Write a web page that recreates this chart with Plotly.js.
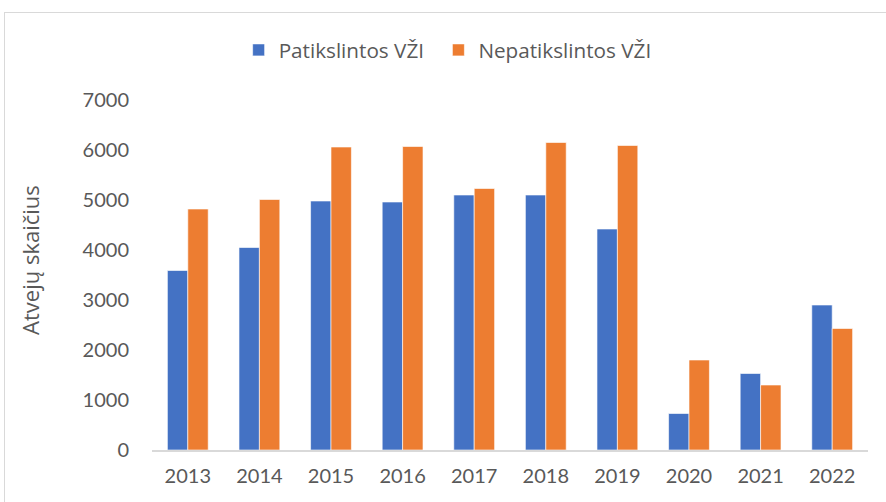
<!DOCTYPE html>
<html>
<head>
<meta charset="utf-8">
<script src="https://cdn.plot.ly/plotly-3.0.1.min.js"></script>
<style>
  html, body { margin: 0; padding: 0; background: #fff; overflow: hidden; }
  #wrap { position: relative; width: 886px; height: 502px; }
  #chart { position: absolute; left: 0; top: 0; width: 886px; height: 502px; }
  #frame { position: absolute; left: 4px; top: 12px; width: 900px; height: 520px;
           border: 1.5px solid #d9d9d9; pointer-events: none; box-sizing: border-box; }
</style>
</head>
<body>
<div id="wrap">
  <div id="chart"></div>
  <div id="frame"></div>
</div>
<script>
const years = ['2013','2014','2015','2016','2017','2018','2019','2020','2021','2022'];
const seriesNames = ['Patikslintos VŽI', 'Nepatikslintos VŽI'];
const patikslintos = [3590, 4050, 4980, 4960, 5100, 5100, 4420, 730, 1530, 2900];
const nepatikslintos = [4820, 5010, 6060, 6070, 5230, 6150, 6090, 1800, 1300, 2430];
const yTicks = [0, 1000, 2000, 3000, 4000, 5000, 6000, 7000];
const yTitle = 'Atvejų skaičius';

const TICKFONT = 'Lato, "Open Sans", sans-serif';
const FONT = '"Open Sans", Lato, sans-serif';
const TXT = '#595959';

const traces = [
  { type: 'bar', name: seriesNames[0], x: years, y: patikslintos, legend: 'legend',
    marker: { color: '#4472C4', line: { color: 'rgba(255,255,255,0.6)', width: 1 } } },
  { type: 'bar', name: seriesNames[1], x: years, y: nepatikslintos, legend: 'legend2',
    marker: { color: '#ED7D31', line: { color: 'rgba(255,255,255,0.6)', width: 1 } } }
];

const legendBase = { orientation: 'h', xanchor: 'left', y: 1.143, yanchor: 'middle',
  font: { family: FONT, size: 20.7, color: TXT }, itemclick: false, bgcolor: 'rgba(0,0,0,0)' };

const layout = {
  width: 886, height: 502,
  margin: { l: 152, r: 18, t: 100, b: 52 },
  paper_bgcolor: '#fff', plot_bgcolor: '#fff',
  font: { family: FONT, size: 20, color: TXT },
  barmode: 'group', bargap: 0.43, bargroupgap: 0,
  showlegend: true,
  legend: Object.assign({}, legendBase, { x: 0.121 }),
  legend2: Object.assign({}, legendBase, { x: 0.400 }),
  xaxis: { type: 'category', showgrid: false, zeroline: false, showline: true,
           linecolor: '#d9d9d9', linewidth: 2, ticks: '', ticklabelstandoff: 7,
           tickfont: { family: TICKFONT, size: 20, color: TXT } },
  yaxis: { range: [0, 7000], tickvals: yTicks, showgrid: false, zeroline: false,
           showline: false, ticks: '', ticklabelstandoff: 22,
           tickfont: { family: TICKFONT, size: 20, color: TXT } },
  annotations: [
    { text: yTitle, xref: 'paper', yref: 'paper', x: -0.1704, y: 0.543,
      xanchor: 'center', yanchor: 'middle', textangle: -90, showarrow: false,
      font: { family: FONT, size: 22, color: TXT } }
  ]
};

Plotly.newPlot('chart', traces, layout, { displayModeBar: false, staticPlot: true });
</script>
</body>
</html>
